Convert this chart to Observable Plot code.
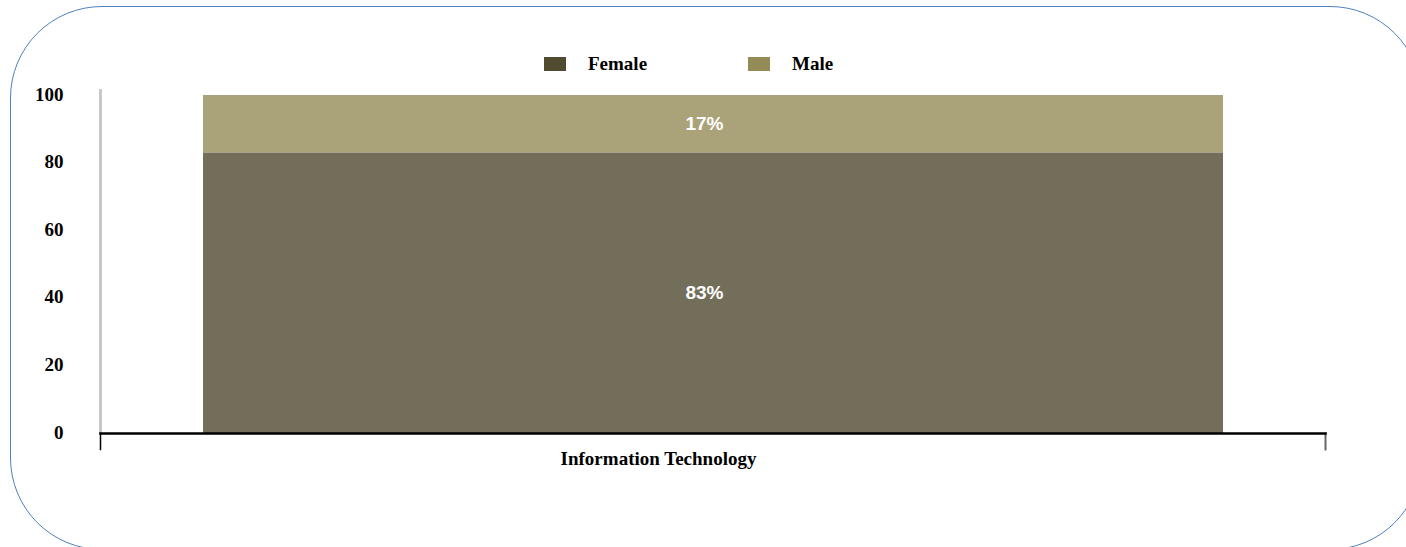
<!DOCTYPE html>
<html>
<head>
<meta charset="utf-8">
<script src="https://cdn.jsdelivr.net/npm/d3@7"></script>
<script src="https://cdn.jsdelivr.net/npm/@observablehq/plot@0.6"></script>
<style>
  html, body { margin: 0; padding: 0; background: #fff; overflow: hidden; }
  #wrap { position: relative; width: 1406px; height: 547px; overflow: hidden; }
  #border { position: absolute; left: 10px; top: 6px; width: 1412px; height: 544px;
            border: 1px solid #4f81bd; border-radius: 92px; box-sizing: border-box; }
  #chart { position: absolute; left: 0; top: 0; }
  .leg { position: absolute; font-family: "Liberation Serif", "Times New Roman", serif;
         font-weight: bold; font-size: 19px; color: #000; line-height: 1; }
  .sw { position: absolute; width: 22px; height: 14px; }
</style>
</head>
<body>
<div id="wrap">
  <div id="border"></div>
  <div id="chart"></div>
  <div id="legend"></div>
</div>
<script>
const categories = ["Information Technology"];
const series = ["Female", "Male"];
const values = { Female: [83], Male: [17] };
const colors = ["#4f4a30", "#958b57"];
const yTicks = [0, 20, 40, 60, 80, 100];

const data = [];
series.forEach(s => categories.forEach((c, i) => data.push({ cat: c, sex: s, value: values[s][i] })));

const serif = "Liberation Serif, Times New Roman, serif";

const plot = Plot.plot({
  width: 1406,
  height: 547,
  marginLeft: 100,
  marginRight: 81,
  marginTop: 95,
  marginBottom: 114,
  style: { background: "transparent", overflow: "visible" },
  x: { domain: categories, padding: 0.0913, label: null },
  y: { domain: [0, 100], label: null },
  color: { domain: series, range: colors },
  marks: [
    Plot.barY(data, { x: "cat", y: "value", fill: "sex", fillOpacity: 0.8, order: null }),
    Plot.text(data, Plot.stackY({ x: "cat", y: "value", z: "sex", order: null,
      text: d => d.value + "%", fill: "white", fontWeight: "bold", dx: -9,
      fontFamily: "Liberation Sans, Arial, sans-serif", fontSize: 19 })),
    Plot.frame({ anchor: "left", stroke: "#c8c8c8", strokeWidth: 3, insetTop: -5 }),
    Plot.frame({ anchor: "left", stroke: "#000", strokeWidth: 1.5, insetTop: 338, insetBottom: -16 }),
    Plot.frame({ anchor: "right", stroke: "#666", strokeWidth: 2, insetTop: 338, insetBottom: -16 }),
    Plot.frame({ anchor: "bottom", stroke: "#000", strokeWidth: 2.5 }),
    Plot.axisY({ ticks: yTicks, tickSize: 0, tickPadding: 37, tickFormat: d => String(d),
      fontWeight: "bold", fontFamily: serif, fontSize: 19, fill: "#000", label: null, dy: -1 }),
    Plot.axisX({ tickSize: 0, tickPadding: 18, fontWeight: "bold", fontFamily: serif, dx: -55,
      fontSize: 19, fill: "#000", label: null })
  ]
});
plot.style.fontFamily = serif;
document.getElementById("chart").appendChild(plot);

// legend
const legend = document.getElementById("legend");
const legX = [544, 748];
series.forEach((s, i) => {
  const sw = document.createElement("div");
  sw.className = "sw";
  sw.style.left = legX[i] + "px";
  sw.style.top = "57px";
  sw.style.background = colors[i];
  legend.appendChild(sw);
  const t = document.createElement("div");
  t.className = "leg";
  t.style.left = (legX[i] + 44) + "px";
  t.style.top = "54px";
  t.textContent = s;
  legend.appendChild(t);
});
</script>
</body>
</html>
